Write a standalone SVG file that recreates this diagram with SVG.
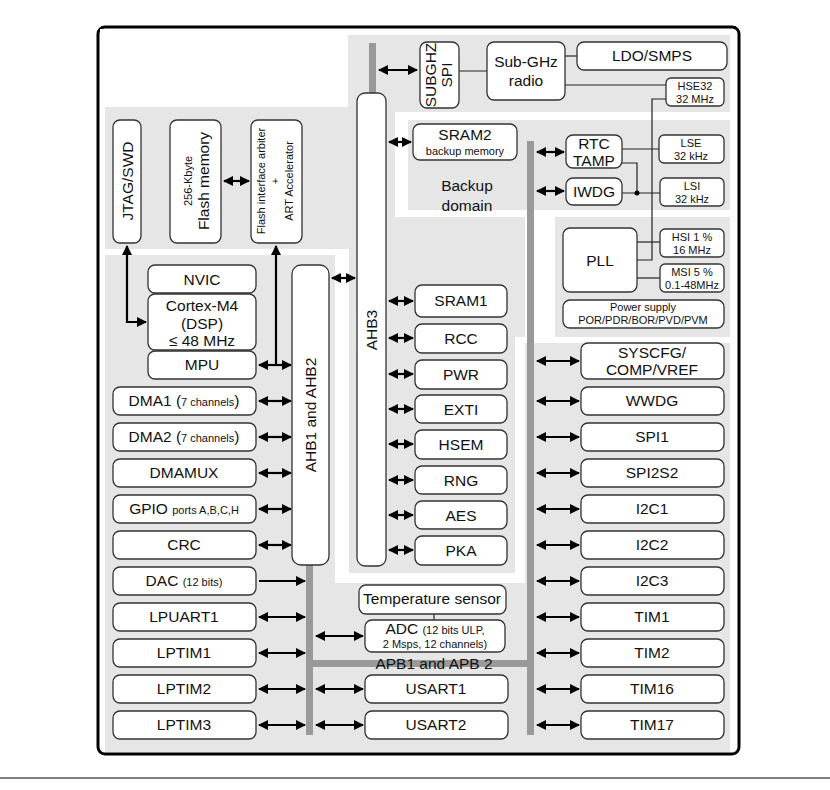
<svg xmlns="http://www.w3.org/2000/svg" width="830" height="790" viewBox="0 0 830 790">
<defs>
<marker id="ah" viewBox="0 0 10 10" refX="9" refY="5" markerWidth="4.6" markerHeight="4.6" orient="auto-start-reverse"><path d="M0,0 L10,5 L0,10 z" fill="#000"/></marker>
<style>
.g{fill:#e6e6e6}
.w{fill:#fff}
.b{fill:#fff;stroke:#333;stroke-width:1.3}
.t{font-family:"Liberation Sans",Arial,sans-serif;font-size:15.5px;text-anchor:middle;fill:#111}
.s{font-family:"Liberation Sans",Arial,sans-serif;font-size:11px;text-anchor:middle;fill:#111}
.bus{fill:#999}
.a{stroke:#000;stroke-width:2.2;fill:none;marker-start:url(#ah);marker-end:url(#ah)}
.a1{stroke:#000;stroke-width:2.2;fill:none;marker-end:url(#ah)}
.l{stroke:#222;stroke-width:1.2;fill:none}
</style>
</defs>
<rect x="0" y="0" width="830" height="790" fill="#fff"/>
<line x1="0" y1="778" x2="830" y2="778" stroke="#000" stroke-width="1"/>
<rect x="98" y="27" width="641" height="727" rx="7" fill="#fff" stroke="#000" stroke-width="3"/>
<g id="background">
<rect class="g" x="105" y="35" width="625" height="717"/>
<rect class="w" x="100" y="29" width="248" height="78"/>
<rect class="w" x="105" y="249" width="244" height="6"/>
<rect class="w" x="335" y="249" width="14" height="334"/>
<rect class="w" x="335" y="573" width="190" height="10"/>
<rect class="w" x="515" y="337" width="10" height="246"/>
<rect class="w" x="515" y="337" width="215" height="6"/>
<rect class="w" x="395" y="112" width="335" height="105"/>
<rect class="g" x="408" y="120" width="322" height="90"/>
<rect class="w" x="525" y="217" width="30" height="120"/>
</g>
<g id="buses">
<rect class="bus" x="369" y="43" width="7" height="52"/>
<rect class="bus" x="527" y="141" width="7" height="594"/>
<rect class="bus" x="306" y="560" width="7" height="175"/>
<rect class="bus" x="306" y="660" width="228" height="7"/>
</g>
<g id="connectors">
<line class="a" x1="379" y1="70" x2="417" y2="70"/>
<line class="a" x1="224" y1="181" x2="249" y2="181"/>
<path class="a" d="M127,246 V322 H146"/>
<line class="a1" x1="276" y1="365" x2="276" y2="246"/>
<line class="a" x1="259" y1="365" x2="291" y2="365"/>
<line class="a" x1="332" y1="278" x2="355" y2="278"/>
<line class="a" x1="389" y1="142" x2="411" y2="142"/>
<line class="a" x1="537" y1="152" x2="564" y2="152"/>
<line class="a" x1="537" y1="191" x2="564" y2="191"/>
<line class="l" x1="452" y1="71" x2="487" y2="71"/>
<line class="l" x1="565" y1="56" x2="577" y2="56"/>
<line class="l" x1="565" y1="85" x2="666" y2="85"/>
<path class="l" d="M666,99 H652 V260 H637"/>
<line class="l" x1="637" y1="242" x2="660" y2="242"/>
<line class="l" x1="637" y1="278" x2="660" y2="278"/>
<line class="l" x1="622" y1="149" x2="659" y2="149"/>
<path class="l" d="M622,163 H637 V193"/>
<line class="l" x1="622" y1="193" x2="660" y2="193"/>
<circle cx="637" cy="193" r="2.5" fill="#000"/>
<line class="l" x1="434" y1="614" x2="434" y2="620"/>
<g>
<line class="a" x1="259" y1="401" x2="291" y2="401"/>
<line class="a" x1="259" y1="437" x2="291" y2="437"/>
<line class="a" x1="259" y1="473" x2="291" y2="473"/>
<line class="a" x1="259" y1="509" x2="291" y2="509"/>
<line class="a" x1="259" y1="545" x2="291" y2="545"/>
<line class="a1" x1="259" y1="581" x2="305" y2="581"/>
<line class="a" x1="259" y1="617" x2="305" y2="617"/>
<line class="a" x1="259" y1="653" x2="305" y2="653"/>
<line class="a" x1="259" y1="689" x2="305" y2="689"/>
<line class="a" x1="259" y1="725" x2="305" y2="725"/>
</g>
<g>
<line class="a" x1="389" y1="301" x2="413" y2="301"/>
<line class="a" x1="389" y1="338" x2="413" y2="338"/>
<line class="a" x1="389" y1="374" x2="413" y2="374"/>
<line class="a" x1="389" y1="409" x2="413" y2="409"/>
<line class="a" x1="389" y1="444" x2="413" y2="444"/>
<line class="a" x1="389" y1="480" x2="413" y2="480"/>
<line class="a" x1="389" y1="515" x2="413" y2="515"/>
<line class="a" x1="389" y1="550" x2="413" y2="550"/>
</g>
<g>
<line class="a" x1="537" y1="361" x2="579" y2="361"/>
<line class="a" x1="537" y1="401" x2="579" y2="401"/>
<line class="a" x1="537" y1="437" x2="579" y2="437"/>
<line class="a" x1="537" y1="473" x2="579" y2="473"/>
<line class="a" x1="537" y1="509" x2="579" y2="509"/>
<line class="a" x1="537" y1="545" x2="579" y2="545"/>
<line class="a" x1="537" y1="581" x2="579" y2="581"/>
<line class="a" x1="537" y1="617" x2="579" y2="617"/>
<line class="a" x1="537" y1="653" x2="579" y2="653"/>
<line class="a" x1="537" y1="689" x2="579" y2="689"/>
<line class="a" x1="537" y1="725" x2="579" y2="725"/>
</g>
<line class="a" x1="316" y1="636" x2="363" y2="636"/>
<line class="a" x1="316" y1="689" x2="363" y2="689"/>
<line class="a" x1="316" y1="725" x2="363" y2="725"/>
</g>
<g id="jtag"><rect class="b" x="113" y="120" width="28" height="123" rx="7"/><text class="t" transform="translate(133,181) rotate(-90)">JTAG/SWD</text></g>
<g id="flash"><rect class="b" x="170" y="120" width="51" height="123" rx="7"/><text class="s" transform="translate(192,181) rotate(-90)">256-Kbyte</text><text class="t" transform="translate(209,181) rotate(-90)">Flash memory</text></g>
<g id="flashif"><rect class="b" x="251" y="120" width="51" height="123" rx="7"/><text class="s" transform="translate(265,181) rotate(-90)">Flash interface  arbiter</text><text class="s" transform="translate(279,181) rotate(-90)">+</text><text class="s" transform="translate(293,181) rotate(-90)">ART Accelerator</text></g>
<g id="nvic"><rect class="b" x="148" y="265" width="108" height="28" rx="7"/><text class="t" x="202" y="285">NVIC</text></g>
<g id="cortex"><rect class="b" x="148" y="294" width="108" height="56" rx="7"/><text class="t" x="202" y="311">Cortex-M4</text><text class="t" x="202" y="329">(DSP)</text><text class="t" x="202" y="346">≤ 48 MHz</text></g>
<g id="mpu"><rect class="b" x="148" y="351" width="108" height="28" rx="7"/><text class="t" x="202" y="370">MPU</text></g>
<g id="ahb12"><rect class="b" x="292" y="265" width="37" height="300" rx="9"/><text class="t" transform="translate(316,415) rotate(-90)">AHB1 and AHB2</text></g>
<g id="ahb3"><rect class="b" x="357" y="93" width="29" height="473" rx="8"/><text class="t" transform="translate(377,330) rotate(-90)">AHB3</text></g>
<g id="subghzspi"><rect class="b" x="420" y="42" width="39" height="66" rx="7"/><text class="t" transform="translate(436,75) rotate(-90)">SUBGHZ</text><text class="t" transform="translate(452,75) rotate(-90)">SPI</text></g>
<g id="radio"><rect class="b" x="487" y="42" width="78" height="58" rx="7"/><text class="t" x="526" y="67">Sub-GHz</text><text class="t" x="526" y="86">radio</text></g>
<g id="ldo"><rect class="b" x="577" y="42" width="150" height="28" rx="7"/><text class="t" x="652" y="61">LDO/SMPS</text></g>
<g id="hse"><rect class="b" x="666" y="78" width="58" height="28" rx="5"/><text class="s" x="695" y="90">HSE32</text><text class="s" x="695" y="103">32 MHz</text></g>
<g id="sram2"><rect class="b" x="413" y="124" width="104" height="36" rx="7"/><text class="t" x="465" y="140">SRAM2</text><text class="s" x="465" y="155">backup memory</text></g>
<text class="t" x="467" y="191">Backup</text><text class="t" x="467" y="211">domain</text>
<g id="rtc"><rect class="b" x="566" y="135" width="56" height="33" rx="7"/><text class="t" x="594" y="149">RTC</text><text class="t" x="594" y="166">TAMP</text></g>
<g id="iwdg"><rect class="b" x="566" y="178" width="56" height="27" rx="7"/><text class="t" x="594" y="197">IWDG</text></g>
<g id="lse"><rect class="b" x="659" y="135" width="65" height="28" rx="5"/><text class="s" x="691" y="147">LSE</text><text class="s" x="691" y="160">32 kHz</text></g>
<g id="lsi"><rect class="b" x="660" y="178" width="64" height="28" rx="5"/><text class="s" x="692" y="190">LSI</text><text class="s" x="692" y="203">32 kHz</text></g>
<g id="pll"><rect class="b" x="563" y="228" width="74" height="64" rx="7"/><text class="t" x="600" y="266">PLL</text></g>
<g id="hsi"><rect class="b" x="660" y="229" width="64" height="28" rx="5"/><text class="s" x="692" y="241">HSI 1 %</text><text class="s" x="692" y="254">16 MHz</text></g>
<g id="msi"><rect class="b" x="660" y="264" width="64" height="28" rx="5"/><text class="s" x="692" y="276">MSI 5 %</text><text class="s" x="692" y="289">0.1-48MHz</text></g>
<g id="power"><rect class="b" x="563" y="300" width="161" height="28" rx="7"/><text class="s" x="643" y="311">Power supply</text><text class="s" x="643" y="324">POR/PDR/BOR/PVD/PVM</text></g>
<g id="sram1"><rect class="b" x="415" y="285" width="92" height="32" rx="7"/><text class="t" x="461" y="306">SRAM1</text></g>
<g id="rcc"><rect class="b" x="415" y="324" width="92" height="29" rx="7"/><text class="t" x="461" y="344">RCC</text></g>
<g id="pwr"><rect class="b" x="415" y="360" width="92" height="29" rx="7"/><text class="t" x="461" y="380">PWR</text></g>
<g id="exti"><rect class="b" x="415" y="395" width="92" height="28" rx="7"/><text class="t" x="461" y="415">EXTI</text></g>
<g id="hsem"><rect class="b" x="415" y="430" width="92" height="29" rx="7"/><text class="t" x="461" y="450">HSEM</text></g>
<g id="rng"><rect class="b" x="415" y="466" width="92" height="28" rx="7"/><text class="t" x="461" y="486">RNG</text></g>
<g id="aes"><rect class="b" x="415" y="501" width="92" height="28" rx="7"/><text class="t" x="461" y="521">AES</text></g>
<g id="pka"><rect class="b" x="415" y="536" width="92" height="29" rx="7"/><text class="t" x="461" y="556">PKA</text></g>
<g id="dma1"><rect class="b" x="113" y="387" width="143" height="28" rx="7"/><text class="t" x="184" y="406">DMA1 (<tspan font-size="11">7 channels</tspan>)</text></g>
<g id="dma2"><rect class="b" x="113" y="423" width="143" height="28" rx="7"/><text class="t" x="184" y="442">DMA2 (<tspan font-size="11">7 channels</tspan>)</text></g>
<g id="dmamux"><rect class="b" x="113" y="459" width="143" height="28" rx="7"/><text class="t" x="184" y="478">DMAMUX</text></g>
<g id="gpio"><rect class="b" x="113" y="495" width="143" height="28" rx="7"/><text class="t" x="184" y="514">GPIO <tspan font-size="11">ports A,B,C,H</tspan></text></g>
<g id="crc"><rect class="b" x="113" y="531" width="143" height="28" rx="7"/><text class="t" x="184" y="550">CRC</text></g>
<g id="dac"><rect class="b" x="113" y="567" width="143" height="28" rx="7"/><text class="t" x="184" y="586">DAC <tspan font-size="11">(12 bits)</tspan></text></g>
<g id="lpuart1"><rect class="b" x="113" y="603" width="143" height="28" rx="7"/><text class="t" x="184" y="622">LPUART1</text></g>
<g id="lptim1"><rect class="b" x="113" y="639" width="143" height="28" rx="7"/><text class="t" x="184" y="658">LPTIM1</text></g>
<g id="lptim2"><rect class="b" x="113" y="675" width="143" height="28" rx="7"/><text class="t" x="184" y="694">LPTIM2</text></g>
<g id="lptim3"><rect class="b" x="113" y="711" width="143" height="28" rx="7"/><text class="t" x="184" y="730">LPTIM3</text></g>
<g id="syscfg"><rect class="b" x="581" y="343" width="143" height="36" rx="7"/><text class="t" x="652" y="358">SYSCFG/</text><text class="t" x="652" y="375">COMP/VREF</text></g>
<g id="wwdg"><rect class="b" x="581" y="387" width="143" height="28" rx="7"/><text class="t" x="652" y="406">WWDG</text></g>
<g id="spi1"><rect class="b" x="581" y="423" width="143" height="28" rx="7"/><text class="t" x="652" y="442">SPI1</text></g>
<g id="spi2s2"><rect class="b" x="581" y="459" width="143" height="28" rx="7"/><text class="t" x="652" y="478">SPI2S2</text></g>
<g id="i2c1"><rect class="b" x="581" y="495" width="143" height="28" rx="7"/><text class="t" x="652" y="514">I2C1</text></g>
<g id="i2c2"><rect class="b" x="581" y="531" width="143" height="28" rx="7"/><text class="t" x="652" y="550">I2C2</text></g>
<g id="i2c3"><rect class="b" x="581" y="567" width="143" height="28" rx="7"/><text class="t" x="652" y="586">I2C3</text></g>
<g id="tim1"><rect class="b" x="581" y="603" width="143" height="28" rx="7"/><text class="t" x="652" y="622">TIM1</text></g>
<g id="tim2"><rect class="b" x="581" y="639" width="143" height="28" rx="7"/><text class="t" x="652" y="658">TIM2</text></g>
<g id="tim16"><rect class="b" x="581" y="675" width="143" height="28" rx="7"/><text class="t" x="652" y="694">TIM16</text></g>
<g id="tim17"><rect class="b" x="581" y="711" width="143" height="28" rx="7"/><text class="t" x="652" y="730">TIM17</text></g>
<g id="temp"><rect class="b" x="359" y="585" width="147" height="29" rx="7"/><text class="t" x="432" y="604" font-size="13">Temperature sensor</text></g>
<g id="adc"><rect class="b" x="365" y="620" width="140" height="32" rx="7"/><text class="t" x="435" y="634">ADC <tspan font-size="11">(12 bits ULP,</tspan></text><text class="s" x="435" y="648">2 Msps, 12 channels)</text></g>
<text class="t" x="434" y="669">APB1 and APB 2</text>
<g id="usart1"><rect class="b" x="365" y="675" width="143" height="28" rx="7"/><text class="t" x="436" y="694">USART1</text></g>
<g id="usart2"><rect class="b" x="365" y="711" width="143" height="28" rx="7"/><text class="t" x="436" y="730">USART2</text></g>
</svg>
